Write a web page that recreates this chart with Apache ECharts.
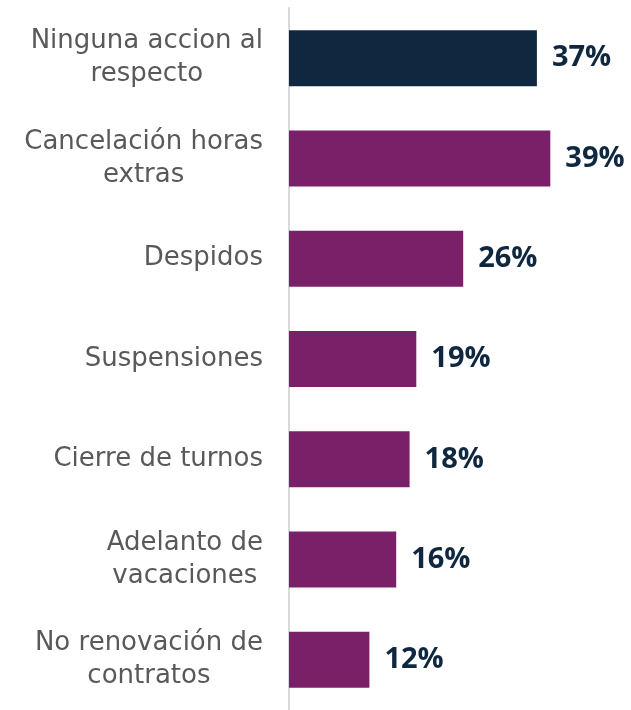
<!DOCTYPE html>
<html>
<head>
<meta charset="utf-8">
<script src="https://cdn.jsdelivr.net/npm/echarts@6.0.0/dist/echarts.min.js"></script>
<style>
  html, body { margin: 0; padding: 0; background: #fff; }
  #chart { width: 631px; height: 710px; }
</style>
</head>
<body>
<div id="chart"></div>
<script>
  var categories = [
    "Ninguna accion al\nrespecto",
    "Cancelación horas\nextras",
    "Despidos",
    "Suspensiones",
    "Cierre de turnos",
    "Adelanto de\nvacaciones",
    "No renovación de\ncontratos"
  ];
  var values = [37, 39, 26, 19, 18, 16, 12];
  var highlightIndex = 0;

  var NAVY = "#10283f";
  var PURPLE = "#7a2069";
  var LABEL_FONT = "DejaVu Sans, sans-serif";
  var VALUE_FONT = "Open Sans, sans-serif";

  var chart = echarts.init(document.getElementById("chart"), null, { renderer: "canvas" });

  chart.setOption({
    backgroundColor: "#fff",
    animation: false,
    grid: { left: 289, right: 7, top: 8, bottom: -5, containLabel: false },
    xAxis: { type: "value", min: 0, max: 50, show: false },
    yAxis: {
      type: "category", data: categories, inverse: true,
      axisLine: { show: true, lineStyle: { color: "#d9d9d9", width: 2 } },
      axisTick: { show: false },
      axisLabel: {
        margin: 26, color: "#595959", fontFamily: LABEL_FONT, fontSize: 26,
        formatter: function (v) {
          return v.split("\n").map(function (l) { return "{c|" + l + "}"; }).join("\n");
        },
        rich: { c: { align: "center", color: "#595959", fontFamily: LABEL_FONT, fontSize: 26, lineHeight: 33 } }
      }
    },
    series: [{
      type: "bar", barWidth: 56,
      data: values.map(function (v, i) {
        return { value: v, itemStyle: { color: i === highlightIndex ? NAVY : PURPLE } };
      }),
      label: {
        show: true, position: "right", distance: 15, formatter: "{c}%",
        color: NAVY, fontFamily: VALUE_FONT, fontWeight: "bold", fontSize: 29
      }
    }]
  });
</script>
</body>
</html>
